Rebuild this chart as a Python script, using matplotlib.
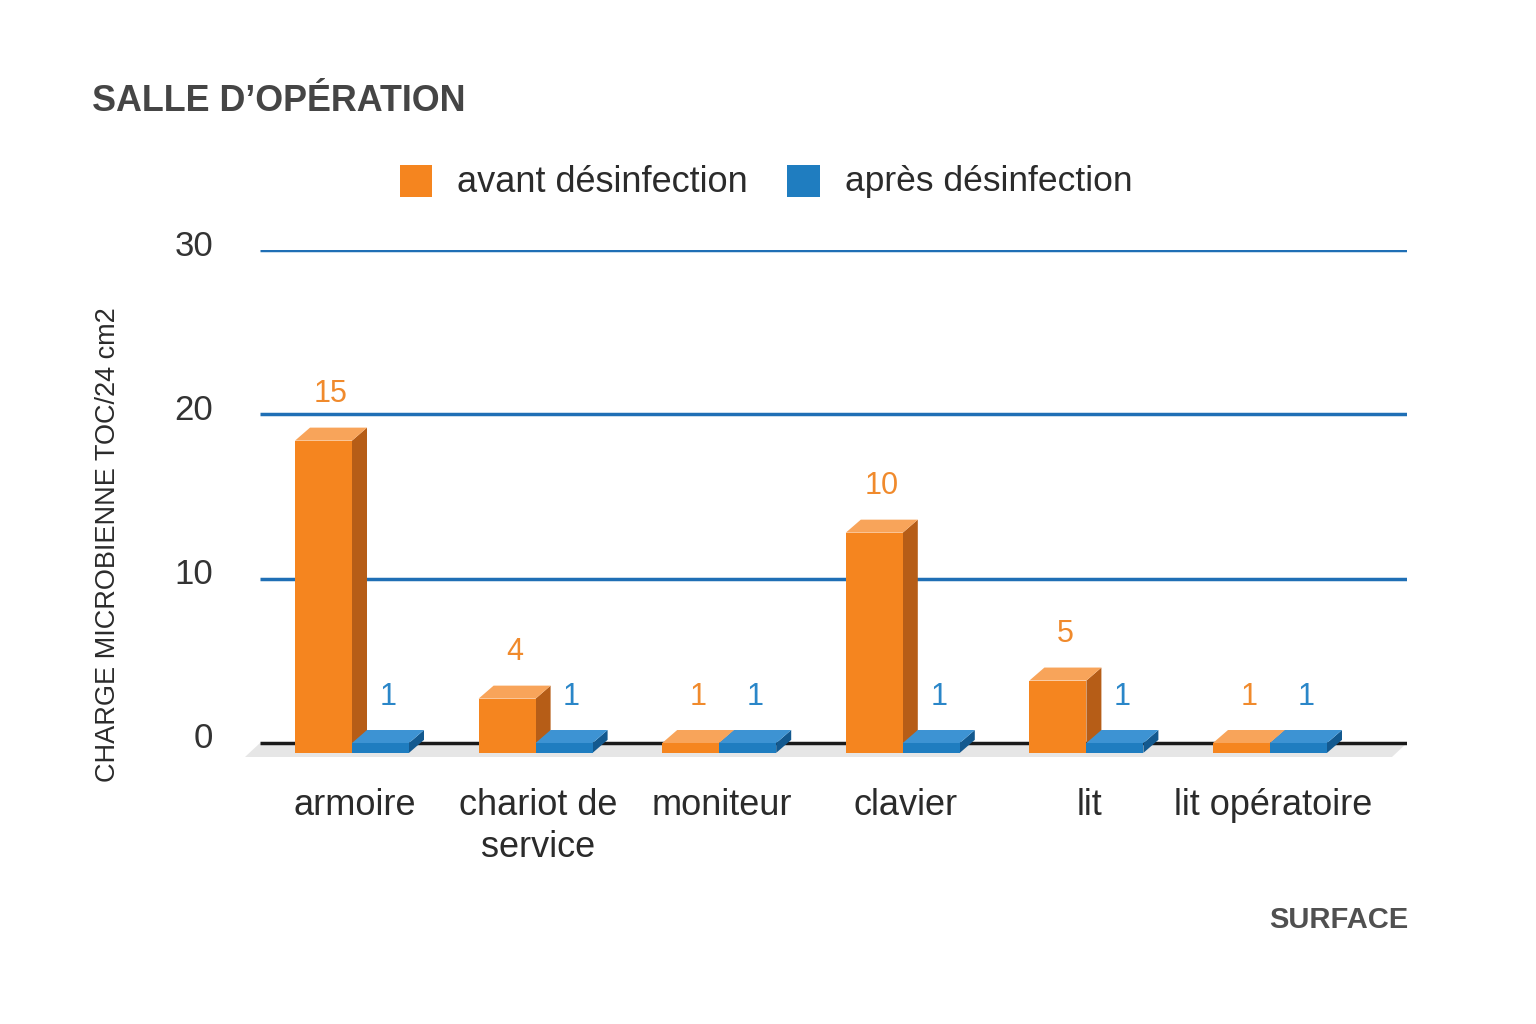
import numpy as np
import matplotlib
matplotlib.use("Agg")
import matplotlib.pyplot as plt
from matplotlib.patches import Polygon, Rectangle

plt.rcParams['font.family'] = ['Liberation Sans', 'DejaVu Sans']

# donnees
surfaces = ["armoire", "chariot de\nservice", "moniteur", "clavier", "lit", "lit opératoire"]
avant_hauteur = [18.4, 2.7, 0.0, 12.8, 3.8, 0.0]   # hauteur visible des barres
apres_hauteur = [0.0, 0.0, 0.0, 0.0, 0.0, 0.0]
avant_etiq = [15, 4, 1, 10, 5, 1]                  # valeurs affichees
apres_etiq = [1, 1, 1, 1, 1, 1]
yticks = [0, 10, 20, 30]

ORANGE = ("#F5851F", "#F8A45A", "#B65D17")   # face, dessus, cote
BLEU = ("#1F7DC0", "#3D93D3", "#13598F")
W, H = 1536, 1024


def fx(px):
    return px / W


def fy(py):
    return 1 - py / H


fig = plt.figure(figsize=(15.36, 10.24), dpi=100)
fig.patch.set_facecolor("white")

# axes: 0 a y=743 px, 30 a y=250 px, ylim (-1, 30)
ppu = (743 - 250) / 30.0
ax_bottom = 743 + ppu
ax = fig.add_axes([fx(260), fy(ax_bottom), fx(1407) - fx(260), (ax_bottom - 250) / H])
ax.set_ylim(-1, 30)
xstep = 183.6
ax.set_xlim((260 - 352) / xstep, (1407 - 352) / xstep)
ax.axis("off")

bw = 57 / xstep
dx = 15 / xstep
dy = 13 / ppu
base = -0.6
xl, xr = ax.get_xlim()

# sol gris
ax.add_patch(Polygon([(xl - dx, base - 0.25), (xr - dx, base - 0.25), (xr, 0), (xl, 0)],
                     closed=True, facecolor="#e6e6e6", edgecolor="none", zorder=1, clip_on=False))
ax.plot([xl, xr], [0, 0], color="#1a1a1a", lw=2.5, zorder=2, solid_capstyle="butt")
for t in yticks[1:]:
    ax.plot([xl, xr], [t, t], color="#1f6fb5", lw=2.5, zorder=2, solid_capstyle="butt")
for t in yticks:
    fig.text(fx(213), fy(739 - t * ppu), str(t), ha="right", va="center",
             fontsize=25, color="#333333")


def barre3d(x0, h, cols):
    top = h
    ax.add_patch(Rectangle((x0, base), bw, top - base, facecolor=cols[0], edgecolor="none", zorder=4))
    ax.add_patch(Polygon([(x0, top), (x0 + bw, top), (x0 + bw + dx, top + dy), (x0 + dx, top + dy)],
                         closed=True, facecolor=cols[1], edgecolor="none", zorder=4))
    ax.add_patch(Polygon([(x0 + bw, base), (x0 + bw + dx, base + dy), (x0 + bw + dx, top + dy), (x0 + bw, top)],
                         closed=True, facecolor=cols[2], edgecolor="none", zorder=3))


x = np.arange(len(surfaces))
for i in range(len(surfaces)):
    barre3d(x[i] - bw, avant_hauteur[i], ORANGE)
    barre3d(x[i], apres_hauteur[i], BLEU)
    ax.annotate(str(avant_etiq[i]), (x[i] - bw / 2 + dx / 2, avant_hauteur[i] + dy),
                xytext=(0, 24), textcoords="offset points", ha="center", va="center",
                fontsize=22, color="#F08A2C", zorder=6)
    ax.annotate(str(apres_etiq[i]), (x[i] + bw / 2 + dx / 2, apres_hauteur[i] + dy),
                xytext=(0, 24), textcoords="offset points", ha="center", va="center",
                fontsize=22, color="#2A86C8", zorder=6)
    ax.text(x[i] + 0.015, -2.75, surfaces[i], ha="center", va="top", fontsize=26,
            color="#2b2b2b", linespacing=1.25, clip_on=False)

# titre, legende, axes
fig.text(fx(92), fy(111), "SALLE D’OPÉRATION", fontsize=25.8, fontweight="bold",
         color="#454545", va="baseline")
fig.patches.append(Rectangle((fx(400), fy(197)), fx(32), 32 / H, transform=fig.transFigure,
                             facecolor=ORANGE[0], edgecolor="none"))
fig.text(fx(457), fy(182), "avant désinfection", fontsize=26, color="#2b2b2b", va="center")
fig.patches.append(Rectangle((fx(787), fy(197)), fx(33), 32 / H, transform=fig.transFigure,
                             facecolor=BLEU[0], edgecolor="none"))
fig.text(fx(845), fy(182), "après désinfection", fontsize=25.5, color="#2b2b2b", va="center")

fig.text(fx(108), fy(545), "CHARGE MICROBIENNE TOC/24 cm2", rotation=90, ha="center",
         va="center", fontsize=19.5, color="#2b2b2b")
fig.text(fx(1408), fy(928), "SURFACE", ha="right", va="baseline", fontsize=21,
         fontweight="bold", color="#505050")

fig.savefig("out.png", dpi=100)
